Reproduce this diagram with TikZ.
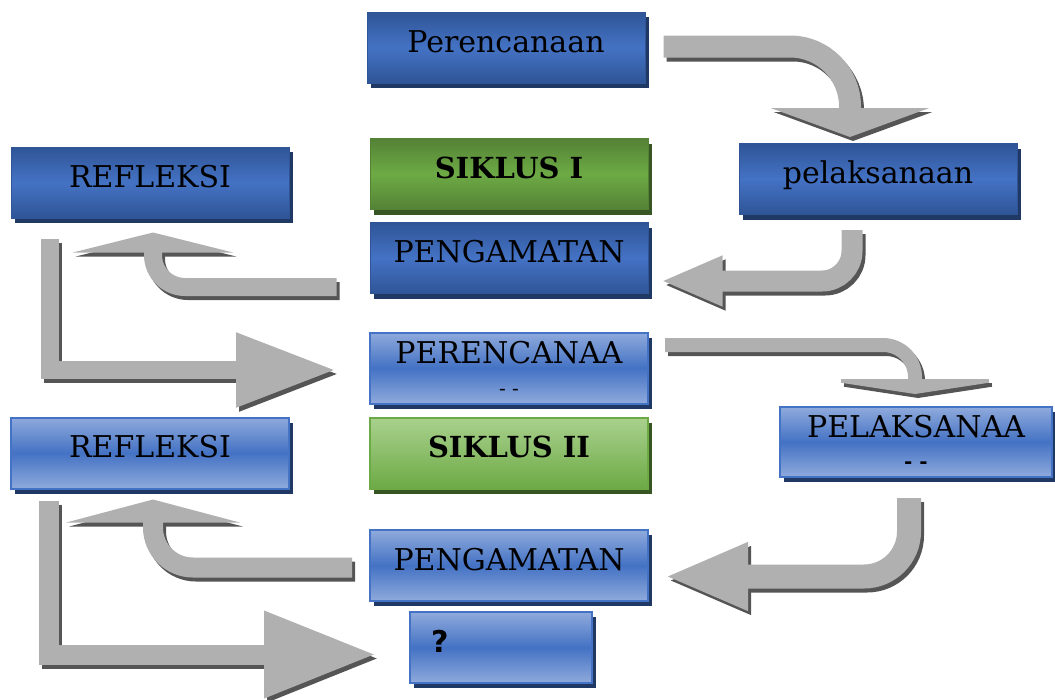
\documentclass[tikz,border=0pt]{standalone}
\usepackage{fontspec}
\setmainfont{DejaVu Serif}
\newfontfamily\qfont{DejaVu Sans}
\usetikzlibrary{arrows.meta,shadows}

\definecolor{darkblue}{HTML}{2F5597}
\definecolor{midblue}{HTML}{4472C4}
\definecolor{paleblue}{HTML}{8FAADC}
\definecolor{navy}{HTML}{1F3864}
\definecolor{darkgreen}{HTML}{548235}
\definecolor{midgreen}{HTML}{6DAA45}
\definecolor{palegreen}{HTML}{A9D18E}
\definecolor{deepgreen}{HTML}{375623}
\definecolor{arrowgray}{HTML}{B0B0B0}
\definecolor{arrowshade}{HTML}{555555}

\tikzset{
  box/.style={rectangle,minimum width=278pt,minimum height=71pt,inner sep=0pt,
    font=\fontsize{30}{34}\selectfont},
  lift/.style={text height=22pt,text depth=13pt},
  darkbox/.style={box,lift,top color=darkblue,bottom color=darkblue,middle color=midblue,
    draw=darkblue,line width=1pt,
    drop shadow={shadow xshift=4pt,shadow yshift=-5pt,fill=navy,opacity=1}},
  lightbox/.style={box,top color=paleblue,bottom color=paleblue,middle color=midblue,
    draw=midblue,line width=2pt,
    drop shadow={shadow xshift=4pt,shadow yshift=-5pt,fill=navy,opacity=1}},
  greenbox/.style={box,lift,top color=darkgreen,bottom color=darkgreen,middle color=midgreen,
    draw=darkgreen,line width=1pt,font=\fontsize{29}{32}\selectfont\bfseries,
    drop shadow={shadow xshift=4pt,shadow yshift=-5pt,fill=deepgreen,opacity=1}},
  palebox/.style={box,lift,top color=palegreen,bottom color=midgreen,
    draw=midgreen,line width=2pt,font=\fontsize{29}{32}\selectfont\bfseries,
    drop shadow={shadow xshift=4pt,shadow yshift=-5pt,fill=deepgreen,opacity=1}},
  shade/.style={arrowshade,transform canvas={shift={(3pt,-4pt)}}}
}

% block arrow with its shadow: #1 options, #2 path
\newcommand{\grayarrow}[2]{%
  \draw[shade,#1] #2;
  \draw[arrowgray,#1] #2;}

\begin{document}
\begin{tikzpicture}[x=1pt,y=-1pt]
\useasboundingbox (0,0) rectangle (1055,699);

% siklus I
\node[darkbox] (plan) at (506,47.5) {Perencanaan};
\node[darkbox] (refl1) at (150,182.5) {REFLEKSI};
\node[greenbox] (sik1) at (509,174) {SIKLUS I};
\node[darkbox] (pel1) at (878,179) {pelaksanaan};
\node[darkbox] (pen1) at (509,258) {PENGAMATAN};

% siklus II
\node[lightbox,align=center] (plan2) at (509,368)
  {PERENCANAA\\[-2pt]{\fontsize{20}{20}\selectfont - -}};
\node[palebox] (sik2) at (509,453) {SIKLUS II};
\node[lightbox,align=center,minimum width=272pt,minimum height=70pt] (pel2) at (916,442)
  {PELAKSANAA\\[-3pt]{\fontsize{20}{20}\selectfont\bfseries - -}};
\node[lightbox,lift] (refl2) at (150,453) {REFLEKSI};
\node[lightbox,lift] (pen2) at (509,565.5) {PENGAMATAN};
\node[lightbox,lift,minimum width=182pt,text width=140pt,align=left,
  font=\fontsize{30}{32}\qfont\bfseries] (q) at (501,647.5) {?};

% arrows
\grayarrow{line width=22pt,rounded corners=60pt,-{Triangle[length=29pt,width=158pt]}}
  {([xshift=18pt,yshift=1pt]plan.east) -| ([xshift=-28pt,yshift=6pt]pel1.north)}
\grayarrow{line width=21pt,rounded corners=30pt,-{Triangle[length=62pt,width=46pt]}}
  {([xshift=-26pt,yshift=-15pt]pel1.south) |- ([xshift=12pt,yshift=-23pt]pen1.east)}
\grayarrow{line width=18pt,rounded corners=32pt,-{Triangle[length=20pt,width=160pt]}}
  {([xshift=-33pt,yshift=-29pt]pen1.west) -| ([xshift=3pt,yshift=-14pt]refl1.south)}
\grayarrow{line width=18pt,-{Triangle[length=100pt,width=70pt]}}
  {([xshift=39pt,yshift=-20pt]refl1.south west) |- ([xshift=-33pt,yshift=-2pt]plan2.west)}
\grayarrow{line width=14pt,rounded corners=32pt,-{Triangle[length=15pt,width=197pt]}}
  {([xshift=16pt,yshift=23pt]plan2.east) -| ([xshift=-1pt,yshift=12pt]pel2.north)}
\grayarrow{line width=24pt,rounded corners=45pt,-{Triangle[length=84pt,width=62pt]}}
  {([xshift=-7pt,yshift=-20pt]pel2.south) |- ([xshift=15pt,yshift=-11pt]pen2.east)}
\grayarrow{line width=20pt,rounded corners=40pt,-{Triangle[length=23pt,width=173pt]}}
  {([xshift=-17pt,yshift=-2pt]pen2.west) -| ([xshift=3pt,yshift=-10pt]refl2.south)}
\grayarrow{line width=20pt,-{Triangle[length=112pt,width=82pt]}}
  {([xshift=39pt,yshift=-11pt]refl2.south west) |- ([xshift=-33pt,yshift=-7pt]q.west)}
\end{tikzpicture}
\end{document}
